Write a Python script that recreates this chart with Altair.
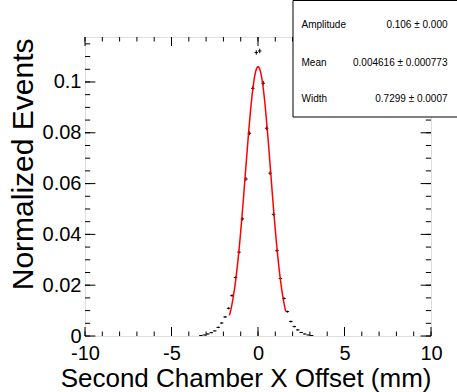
import altair as alt
import numpy as np
import pandas as pd

# ---- data ----
bin_centers = [-3.3, -3.1, -2.9, -2.7, -2.5, -2.3, -2.1, -1.9, -1.7, -1.5, -1.3, -1.1,
               -0.9, -0.7, -0.5, -0.3, -0.1, 0.1, 0.3, 0.5, 0.7, 0.9, 1.1, 1.3,
               1.5, 1.7, 1.9, 2.1, 2.3, 2.5, 2.7, 2.9, 3.1]
values = [0.0002, 0.0004, 0.0008, 0.0013, 0.0020, 0.0034, 0.0051, 0.0075, 0.0109, 0.0159, 0.0230, 0.0330,
          0.0461, 0.0618, 0.0798, 0.0975, 0.1116, 0.1122, 0.0995, 0.0818, 0.0641, 0.0479, 0.0336, 0.0226,
          0.0148, 0.0096, 0.0057, 0.0037, 0.0024, 0.0014, 0.0008, 0.0004, 0.0002]
errors = [0.0001, 0.0001, 0.0002, 0.0002, 0.0002, 0.0003, 0.0003, 0.0004, 0.0004, 0.0005, 0.0005, 0.0006,
          0.0007, 0.0008, 0.0008, 0.0009, 0.0009, 0.0009, 0.0009, 0.0008, 0.0008, 0.0007, 0.0006, 0.0005,
          0.0005, 0.0004, 0.0004, 0.0003, 0.0003, 0.0002, 0.0002, 0.0001, 0.0001]
bin_half_width = 0.1

# fit parameters (from the stats box) and fit range
fit_amplitude = 0.106
fit_mean = 0.004616
fit_width = 0.7299
fit_range = [-1.65, 1.6]

stat_names = ["Amplitude", "Mean", "Width"]
stat_values = ["0.106 \u00b1 0.000", "0.004616 \u00b1 0.000773", "0.7299 \u00b1 0.0007"]

x_major = [-10, -5, 0, 5, 10]
x_minor = list(range(-10, 11))
y_major = [0, 0.02, 0.04, 0.06, 0.08, 0.1]
y_minor = [round(i * 0.005, 3) for i in range(24)]

x_title = "Second Chamber X Offset (mm)"
y_title = "Normalized Events"

# ---- layout ----
W, H = 346, 299
FONT = "Liberation Sans"

xs = alt.Scale(domain=[-10, 10], nice=False, zero=False)
ys = alt.Scale(domain=[0, 0.1177], nice=False, zero=False)

df = pd.DataFrame({"x": bin_centers, "v": values, "e": errors})
df["xlo"] = df["x"] - bin_half_width
df["xhi"] = df["x"] + bin_half_width
df["vlo"] = df["v"] - df["e"]
df["vhi"] = df["v"] + df["e"]

fx = np.linspace(fit_range[0], fit_range[1], 200)
fy = fit_amplitude * np.exp(-0.5 * ((fx - fit_mean) / fit_width) ** 2)
df_fit = pd.DataFrame({"x": fx, "y": fy})

x_axis = alt.Axis(values=x_major, labelExpr="toString(datum.value)", ticks=False, domain=False,
                  grid=False, labelFontSize=20, labelFont=FONT, labelColor="black", labelPadding=7,
                  labelFlush=False, labelOverlap=False, labelBound=False,
                  title=x_title, titleFont=FONT, titleFontSize=26, titleFontWeight="normal",
                  titleColor="black", titleX=W, titleY=50, titleAlign="right",
                  titleBaseline="alphabetic", titleAngle=0)
y_axis = alt.Axis(values=y_major, format="~g", ticks=False, domain=False, grid=False,
                  labelFontSize=20, labelFont=FONT, labelColor="black", labelPadding=4,
                  labelOverlap=False, labelBound=False, labelFlush=False,
                  title=y_title, titleFont=FONT, titleFontSize=30, titleFontWeight="normal",
                  titleColor="black", titleX=-53, titleY=1, titleAlign="right",
                  titleBaseline="alphabetic", titleAngle=270)

base = alt.Chart(df)

# data points: horizontal (bin width) and vertical (error) bars
hbars = base.mark_rule(color="black", strokeWidth=1).encode(
    x=alt.X("xlo:Q", scale=xs, axis=x_axis), x2="xhi:Q",
    y=alt.Y("v:Q", scale=ys, axis=y_axis))
vbars = base.mark_rule(color="black", strokeWidth=1).encode(
    x=alt.X("x:Q", scale=xs, axis=x_axis),
    y=alt.Y("vlo:Q", scale=ys, axis=y_axis), y2="vhi:Q")

fit = alt.Chart(df_fit).mark_line(color="#ff0000", strokeWidth=1.5).encode(
    x=alt.X("x:Q", scale=xs, axis=x_axis), y=alt.Y("y:Q", scale=ys, axis=y_axis))

# ROOT-style inward ticks on all four sides
def xticks(vals, y0, y1):
    return alt.Chart(pd.DataFrame({"t": vals})).mark_rule(color="black", strokeWidth=1).encode(
        x=alt.X("t:Q", scale=xs, axis=x_axis), y=alt.value(y0), y2=alt.value(y1))

def yticks(vals, x0, x1):
    return alt.Chart(pd.DataFrame({"t": vals})).mark_rule(color="black", strokeWidth=1).encode(
        y=alt.Y("t:Q", scale=ys, axis=y_axis), x=alt.value(x0), x2=alt.value(x1))

ticks = [
    xticks(x_major, H, H - 9), xticks(x_minor, H, H - 4.5),
    xticks(x_major, 0, 9), xticks(x_minor, 0, 4.5),
    yticks(y_major, 0, 10.4), yticks(y_minor, 0, 5.2),
    yticks(y_major, W, W - 10.4), yticks(y_minor, W, W - 5.2),
]

# stats box
box = alt.Chart(pd.DataFrame({"a": [0]})).mark_rect(fill="white", stroke="black", strokeWidth=1).encode(
    x=alt.value(208), x2=alt.value(385), y=alt.value(-36.5), y2=alt.value(80))

row_y = [-12, 25.7, 62.3]
texts = []
for name, val, yy in zip(stat_names, stat_values, row_y):
    d = pd.DataFrame({"n": [name], "s": [val]})
    texts.append(alt.Chart(d).mark_text(align="left", baseline="middle", font=FONT, fontSize=10,
                                        color="black").encode(
        text="n:N", x=alt.value(216.5), y=alt.value(yy)))
    texts.append(alt.Chart(d).mark_text(align="right", baseline="middle", font=FONT, fontSize=10,
                                        color="black").encode(
        text="s:N", x=alt.value(362.5), y=alt.value(yy)))

chart = alt.layer(hbars, vbars, *ticks, fit, box, *texts).properties(
    width=W, height=H,
    autosize=alt.AutoSizeParams(type="none"),
    padding={"left": 85, "top": 37, "right": 26, "bottom": 56},
).configure_view(stroke="black", strokeWidth=1).configure(background="white")

chart.save("out.html", embed_options={"renderer": "svg", "actions": False})
